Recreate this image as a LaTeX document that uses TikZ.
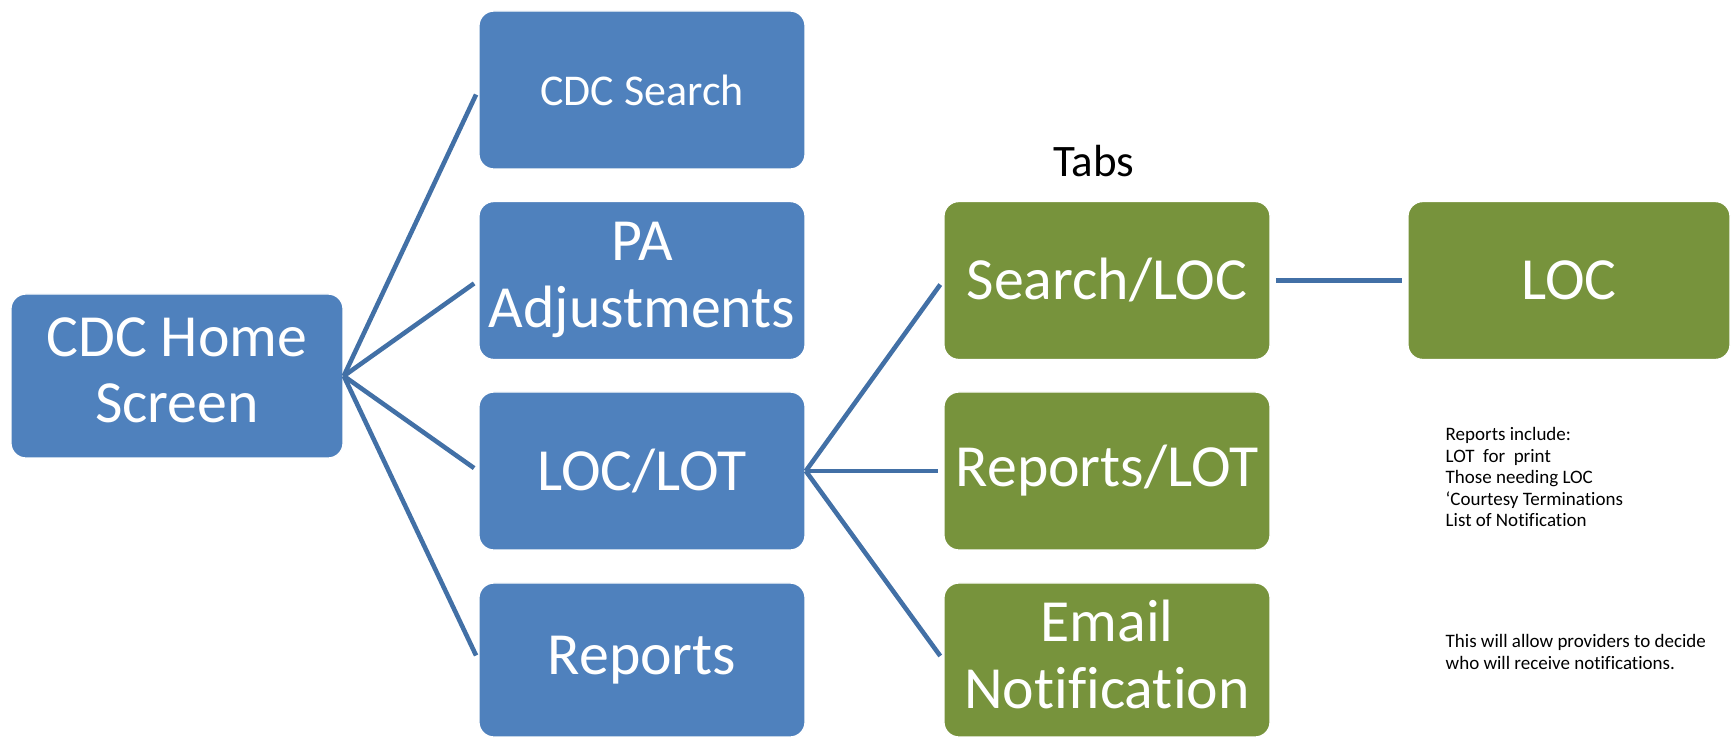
\documentclass[tikz,border=0pt]{standalone}
\usepackage{fontspec}
\setmainfont{Carlito}[Ligatures={NoCommon}]
\definecolor{boxblue}{HTML}{4F81BD}
\definecolor{boxgreen}{HTML}{77933C}
\definecolor{linkblue}{HTML}{4270A6}
\newcommand{\liftup}{\\[-0.55cm]\mbox{}}
\begin{document}
\begin{tikzpicture}[x=0.01cm,y=-0.01cm,
  box/.style={rectangle, rounded corners=0.15cm, draw=white, line width=0.4pt, text=white, align=center, inner sep=0pt, font=\fontsize{17}{19}\selectfont},
  bluebox/.style={box, fill=boxblue, minimum width=3.26cm, minimum height=1.58cm},
  greenbox/.style={box, fill=boxgreen, minimum width=3.26cm, minimum height=1.58cm},
  lowbox/.style={minimum height=1.54cm},
  conn/.style={draw=linkblue, line width=1.3pt, shorten >=0.05cm},
  note/.style={anchor=north west, inner sep=0pt, align=left, font=\fontsize{5.4}{6.1}\selectfont}]
\useasboundingbox (0,0) rectangle (1732,739);
\node[bluebox, minimum width=3.32cm, minimum height=1.64cm] (home) at (177,376) {CDC Home\\Screen\liftup};
\node[bluebox, font=\fontsize{12.5}{14}\selectfont] (search) at (642,90) {CDC Search};
\node[bluebox] (pa) at (642,280.5) {PA\\Adjustments\liftup};
\node[bluebox] (loclot) at (642,471) {LOC/LOT};
\node[bluebox, lowbox] (reports) at (642,660) {Reports};
\node[greenbox] (sloc) at (1107,280.5) {Search/LOC};
\node[greenbox] (rlot) at (1107,471) {Reports/LOT};
\node[greenbox, lowbox] (email) at (1107,660) {Email\\Notification\liftup};
\node[greenbox, minimum width=3.22cm] (loc) at (1569,280.5) {LOC};
\node[anchor=base, inner sep=0pt, font=\fontsize{12.8}{14}\selectfont] (tabs) at (1094,176) {Tabs};
\node[note] (note1) at (1445,427) {Reports include:\\LOT\ \ for\ \ print\\Those needing LOC\\`Courtesy Terminations\\List of Notification};
\node[note] (note2) at (1445,634) {This will allow providers to decide\\who will receive notifications.};
\draw[conn] (home.east) -- (search.west);
\draw[conn] (home.east) -- (pa.west);
\draw[conn] (home.east) -- (loclot.west);
\draw[conn] (home.east) -- (reports.west);
\draw[conn] (loclot.east) -- (sloc.west);
\draw[conn] (loclot.east) -- (rlot.west);
\draw[conn] (loclot.east) -- (email.west);
\draw[conn, shorten <=0.05cm] (sloc.east) -- (loc.west);
\end{tikzpicture}
\end{document}
